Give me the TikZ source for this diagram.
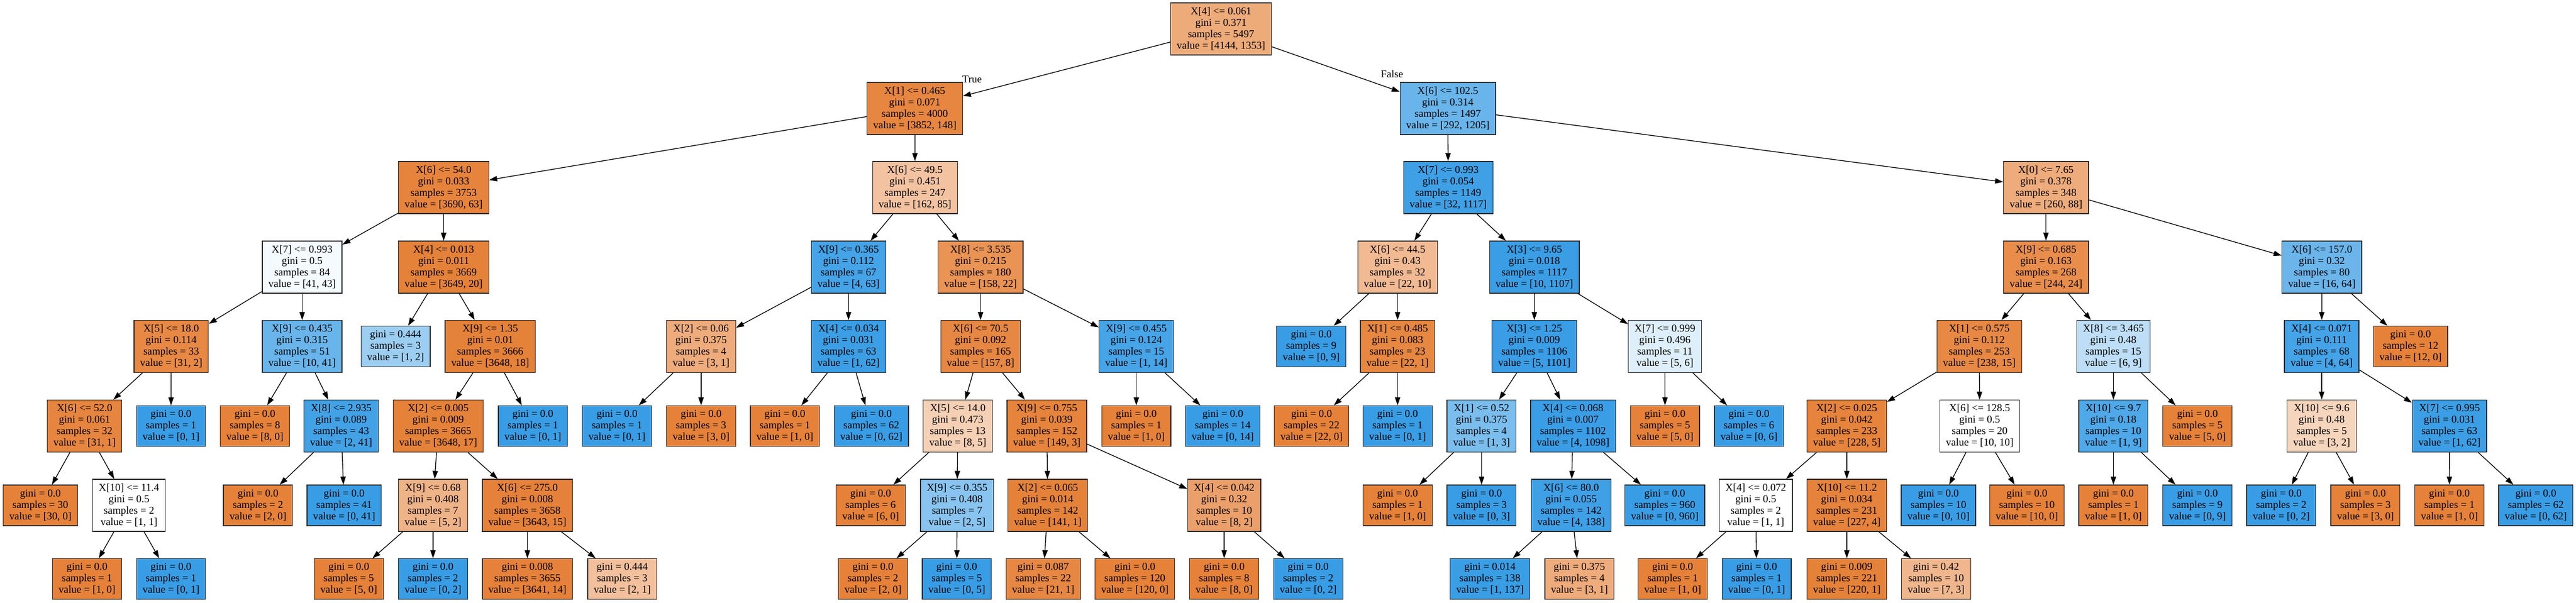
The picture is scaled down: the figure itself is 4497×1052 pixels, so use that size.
\documentclass[tikz,border=0pt]{standalone}
\usepackage{fontspec}
\setmainfont{Liberation Serif}
\usetikzlibrary{arrows.meta}
\definecolor{cO}{RGB}{229,129,57}
\definecolor{cB}{RGB}{57,157,229}
\definecolor{bord}{RGB}{45,45,45}
\tikzset{
  tnode/.style={draw=bord, line width=1.3pt, rectangle, inner xsep=10.7pt, inner ysep=0pt,
    align=center, minimum height=91pt, font=\fontsize{18.4}{20}\selectfont},
  tleaf/.style={tnode, minimum height=71pt},
  orng/.style={fill=cO!#1!white},
  blu/.style={fill=cB!#1!white},
  wht/.style={fill=white},
  edge/.style={line width=1.3pt, -{Triangle[length=14pt,width=9.3pt]}},
  lbl/.style={font=\fontsize{18.4}{20}\selectfont, inner sep=0pt, anchor=base}
}
\begin{document}
\begin{tikzpicture}[x=1pt,y=-1pt]
\useasboundingbox (0,0) rectangle (4497,1052);
% ---- level 0/1
\node[tnode,orng=67] (n0) at (2131.6,50.5) {X[4] <= 0.061\\gini = 0.371\\samples = 5497\\value = [4144, 1353]};
\node[tnode,orng=96] (n1) at (1597,189.5) {X[1] <= 0.465\\gini = 0.071\\samples = 4000\\value = [3852, 148]};
\node[tnode,blu=76] (m0) at (2527.5,189.5) {X[6] <= 102.5\\gini = 0.314\\samples = 1497\\value = [292, 1205]};
% ---- left subtree
\node[tnode,orng=98] (n2) at (774.5,327.5) {X[6] <= 54.0\\gini = 0.033\\samples = 3753\\value = [3690, 63]};
\node[tnode,blu=5] (n3) at (527.5,466.5) {X[7] <= 0.993\\gini = 0.5\\samples = 84\\value = [41, 43]};
\node[tnode,orng=94] (n4) at (298.9,605) {X[5] <= 18.0\\gini = 0.114\\samples = 33\\value = [31, 2]};
\node[tnode,orng=97] (n5) at (147.7,744) {X[6] <= 52.0\\gini = 0.061\\samples = 32\\value = [31, 1]};
\node[tleaf,orng=100] (n6) at (70.5,882.5) {gini = 0.0\\samples = 30\\value = [30, 0]};
\node[tnode,wht] (n7) at (225.2,882.5) {X[10] <= 11.4\\gini = 0.5\\samples = 2\\value = [1, 1]};
\node[tleaf,orng=100] (n8) at (151.9,1011) {gini = 0.0\\samples = 1\\value = [1, 0]};
\node[tleaf,blu=100] (n9) at (298.5,1011) {gini = 0.0\\samples = 1\\value = [0, 1]};
\node[tleaf,blu=100] (n10) at (298.5,744) {gini = 0.0\\samples = 1\\value = [0, 1]};
\node[tnode,blu=76] (n11) at (527.5,605) {X[9] <= 0.435\\gini = 0.315\\samples = 51\\value = [10, 41]};
\node[tleaf,orng=100] (n12) at (445.1,744) {gini = 0.0\\samples = 8\\value = [8, 0]};
\node[tnode,blu=95] (n13) at (595.6,744) {X[8] <= 2.935\\gini = 0.089\\samples = 43\\value = [2, 41]};
\node[tleaf,orng=100] (n14) at (450.4,882.5) {gini = 0.0\\samples = 2\\value = [2, 0]};
\node[tleaf,blu=100] (n15) at (600.8,882.5) {gini = 0.0\\samples = 41\\value = [0, 41]};
\node[tnode,orng=99.5] (n16) at (774.5,466.5) {X[4] <= 0.013\\gini = 0.011\\samples = 3669\\value = [3649, 20]};
\node[tleaf,blu=50] (n17) at (690.6,605) {gini = 0.444\\samples = 3\\value = [1, 2]};
\node[tnode,orng=99.5] (n18) at (855.8,605) {X[9] <= 1.35\\gini = 0.01\\samples = 3666\\value = [3648, 18]};
\node[tnode,orng=99.5] (n19) at (765,744) {X[2] <= 0.005\\gini = 0.009\\samples = 3665\\value = [3648, 17]};
\node[tnode,orng=60] (n20) at (755.9,882.5) {X[9] <= 0.68\\gini = 0.408\\samples = 7\\value = [5, 2]};
\node[tleaf,orng=100] (n21) at (608.9,1011) {gini = 0.0\\samples = 5\\value = [5, 0]};
\node[tleaf,blu=100] (n22) at (755.9,1011) {gini = 0.0\\samples = 2\\value = [0, 2]};
\node[tnode,orng=99.6] (n23) at (920.7,882.5) {X[6] <= 275.0\\gini = 0.008\\samples = 3658\\value = [3643, 15]};
\node[tleaf,orng=99.6] (n24) at (920.7,1011) {gini = 0.008\\samples = 3655\\value = [3641, 14]};
\node[tleaf,orng=50] (n25) at (1086.3,1011) {gini = 0.444\\samples = 3\\value = [2, 1]};
\node[tleaf,blu=100] (n26) at (930.2,744) {gini = 0.0\\samples = 1\\value = [0, 1]};
\node[tnode,orng=47.5] (n27) at (1597.4,327.5) {X[6] <= 49.5\\gini = 0.451\\samples = 247\\value = [162, 85]};
\node[tnode,blu=93.7] (n28) at (1481.3,466.5) {X[9] <= 0.365\\gini = 0.112\\samples = 67\\value = [4, 63]};
\node[tnode,orng=66.7] (n29) at (1223.9,605) {X[2] <= 0.06\\gini = 0.375\\samples = 4\\value = [3, 1]};
\node[tleaf,blu=100] (n30) at (1077.1,744) {gini = 0.0\\samples = 1\\value = [0, 1]};
\node[tleaf,orng=100] (n31) at (1223.9,744) {gini = 0.0\\samples = 3\\value = [3, 0]};
\node[tnode,blu=98.4] (n32) at (1481.3,605) {X[4] <= 0.034\\gini = 0.031\\samples = 63\\value = [1, 62]};
\node[tleaf,orng=100] (n33) at (1370.2,744) {gini = 0.0\\samples = 1\\value = [1, 0]};
\node[tleaf,blu=100] (n34) at (1521.1,744) {gini = 0.0\\samples = 62\\value = [0, 62]};
\node[tnode,orng=86] (n35) at (1711.8,466.5) {X[8] <= 3.535\\gini = 0.215\\samples = 180\\value = [158, 22]};
\node[tnode,orng=95] (n36) at (1711.8,605) {X[6] <= 70.5\\gini = 0.092\\samples = 165\\value = [157, 8]};
\node[tnode,orng=37.5] (n37) at (1672,744) {X[5] <= 14.0\\gini = 0.473\\samples = 13\\value = [8, 5]};
\node[tleaf,orng=100] (n38) at (1519.9,882.5) {gini = 0.0\\samples = 6\\value = [6, 0]};
\node[tnode,blu=60] (n39) at (1670.8,882.5) {X[9] <= 0.355\\gini = 0.408\\samples = 7\\value = [2, 5]};
\node[tleaf,orng=100] (n40) at (1524,1011) {gini = 0.0\\samples = 2\\value = [2, 0]};
\node[tleaf,blu=100] (n41) at (1670.3,1011) {gini = 0.0\\samples = 5\\value = [0, 5]};
\node[tnode,orng=98] (n42) at (1827.5,744) {X[9] <= 0.755\\gini = 0.039\\samples = 152\\value = [149, 3]};
\node[tnode,orng=99.3] (n43) at (1829.1,882.5) {X[2] <= 0.065\\gini = 0.014\\samples = 142\\value = [141, 1]};
\node[tleaf,orng=95.2] (n44) at (1821.2,1011) {gini = 0.087\\samples = 22\\value = [21, 1]};
\node[tleaf,orng=100] (n45) at (1981.2,1011) {gini = 0.0\\samples = 120\\value = [120, 0]};
\node[tnode,orng=75] (n46) at (2137.1,882.5) {X[4] <= 0.042\\gini = 0.32\\samples = 10\\value = [8, 2]};
\node[tleaf,orng=100] (n47) at (2137.1,1011) {gini = 0.0\\samples = 8\\value = [8, 0]};
\node[tleaf,blu=100] (n48) at (2283.8,1011) {gini = 0.0\\samples = 2\\value = [0, 2]};
\node[tnode,blu=92.9] (n49) at (1983.7,605) {X[9] <= 0.455\\gini = 0.124\\samples = 15\\value = [1, 14]};
\node[tleaf,orng=100] (n50) at (1983.7,744) {gini = 0.0\\samples = 1\\value = [1, 0]};
\node[tleaf,blu=100] (n51) at (2134.6,744) {gini = 0.0\\samples = 14\\value = [0, 14]};
% ---- right subtree
\node[tnode,blu=97.1] (m1) at (2528.2,327.5) {X[7] <= 0.993\\gini = 0.054\\samples = 1149\\value = [32, 1117]};
\node[tnode,orng=54.5] (m2) at (2439.8,466.5) {X[6] <= 44.5\\gini = 0.43\\samples = 32\\value = [22, 10]};
\node[tleaf,blu=100] (m3) at (2289.1,605) {gini = 0.0\\samples = 9\\value = [0, 9]};
\node[tnode,orng=95.5] (m4) at (2439.8,605) {X[1] <= 0.485\\gini = 0.083\\samples = 23\\value = [22, 1]};
\node[tleaf,orng=100] (m5) at (2289.6,744) {gini = 0.0\\samples = 22\\value = [22, 0]};
\node[tleaf,blu=100] (m6) at (2439.8,744) {gini = 0.0\\samples = 1\\value = [0, 1]};
\node[tnode,blu=99.1] (m7) at (2678.6,466.5) {X[3] <= 9.65\\gini = 0.018\\samples = 1117\\value = [10, 1107]};
\node[tnode,blu=99.5] (m8) at (2678.5,605) {X[3] <= 1.25\\gini = 0.009\\samples = 1106\\value = [5, 1101]};
\node[tnode,blu=66.7] (m9) at (2586.4,744) {X[1] <= 0.52\\gini = 0.375\\samples = 4\\value = [1, 3]};
\node[tleaf,orng=100] (m10) at (2439.8,882.5) {gini = 0.0\\samples = 1\\value = [1, 0]};
\node[tleaf,blu=100] (m11) at (2586.4,882.5) {gini = 0.0\\samples = 3\\value = [0, 3]};
\node[tnode,blu=99.6] (m12) at (2746,744) {X[4] <= 0.068\\gini = 0.007\\samples = 1102\\value = [4, 1098]};
\node[tnode,blu=97.1] (m13) at (2742.8,882.5) {X[6] <= 80.0\\gini = 0.055\\samples = 142\\value = [4, 138]};
\node[tleaf,blu=99.3] (m14) at (2601.1,1011) {gini = 0.014\\samples = 138\\value = [1, 137]};
\node[tleaf,orng=66.7] (m15) at (2757.2,1011) {gini = 0.375\\samples = 4\\value = [3, 1]};
\node[tleaf,blu=100] (m16) at (2906.3,882.5) {gini = 0.0\\samples = 960\\value = [0, 960]};
\node[tnode,blu=16.7] (m17) at (2906.5,605) {X[7] <= 0.999\\gini = 0.496\\samples = 11\\value = [5, 6]};
\node[tleaf,orng=100] (m18) at (2906.6,744) {gini = 0.0\\samples = 5\\value = [5, 0]};
\node[tleaf,blu=100] (m19) at (3053.2,744) {gini = 0.0\\samples = 6\\value = [0, 6]};
\node[tnode,orng=66.2] (m20) at (3571.7,327.5) {X[0] <= 7.65\\gini = 0.378\\samples = 348\\value = [260, 88]};
\node[tnode,orng=90.2] (m21) at (3571.7,466.5) {X[9] <= 0.685\\gini = 0.163\\samples = 268\\value = [244, 24]};
\node[tnode,orng=93.7] (m22) at (3455.3,605) {X[1] <= 0.575\\gini = 0.112\\samples = 253\\value = [238, 15]};
\node[tnode,orng=97.8] (m23) at (3224,744) {X[2] <= 0.025\\gini = 0.042\\samples = 233\\value = [228, 5]};
\node[tnode,wht] (m24) at (3065.1,882.5) {X[4] <= 0.072\\gini = 0.5\\samples = 2\\value = [1, 1]};
\node[tleaf,orng=100] (m25) at (2920,1011) {gini = 0.0\\samples = 1\\value = [1, 0]};
\node[tleaf,blu=100] (m26) at (3066.6,1011) {gini = 0.0\\samples = 1\\value = [0, 1]};
\node[tnode,orng=98.2] (m27) at (3224,882.5) {X[10] <= 11.2\\gini = 0.034\\samples = 231\\value = [227, 4]};
\node[tleaf,orng=99.5] (m28) at (3224,1011) {gini = 0.009\\samples = 221\\value = [220, 1]};
\node[tleaf,orng=57.1] (m29) at (3379.9,1011) {gini = 0.42\\samples = 10\\value = [7, 3]};
\node[tnode,wht] (m30) at (3456,744) {X[6] <= 128.5\\gini = 0.5\\samples = 20\\value = [10, 10]};
\node[tleaf,blu=100] (m31) at (3384,882.5) {gini = 0.0\\samples = 10\\value = [0, 10]};
\node[tleaf,orng=100] (m32) at (3538.4,882.5) {gini = 0.0\\samples = 10\\value = [10, 0]};
\node[tnode,blu=33.3] (m33) at (3689.4,605) {X[8] <= 3.465\\gini = 0.48\\samples = 15\\value = [6, 9]};
\node[tnode,blu=88.9] (m34) at (3689.4,744) {X[10] <= 9.7\\gini = 0.18\\samples = 10\\value = [1, 9]};
\node[tleaf,orng=100] (m35) at (3689.4,882.5) {gini = 0.0\\samples = 1\\value = [1, 0]};
\node[tleaf,blu=100] (m36) at (3836.1,882.5) {gini = 0.0\\samples = 9\\value = [0, 9]};
\node[tleaf,orng=100] (m37) at (3836.1,744) {gini = 0.0\\samples = 5\\value = [5, 0]};
\node[tnode,blu=75] (m38) at (4053.3,466.5) {X[6] <= 157.0\\gini = 0.32\\samples = 80\\value = [16, 64]};
\node[tnode,blu=93.75] (m39) at (4053,605) {X[4] <= 0.071\\gini = 0.111\\samples = 68\\value = [4, 64]};
\node[tnode,orng=33.3] (m40) at (4053,744) {X[10] <= 9.6\\gini = 0.48\\samples = 5\\value = [3, 2]};
\node[tleaf,blu=100] (m41) at (3982.4,882.5) {gini = 0.0\\samples = 2\\value = [0, 2]};
\node[tleaf,orng=100] (m42) at (4129.4,882.5) {gini = 0.0\\samples = 3\\value = [3, 0]};
\node[tnode,blu=98.4] (m43) at (4276.1,744) {X[7] <= 0.995\\gini = 0.031\\samples = 63\\value = [1, 62]};
\node[tleaf,orng=100] (m44) at (4276,882.5) {gini = 0.0\\samples = 1\\value = [1, 0]};
\node[tleaf,blu=100] (m45) at (4426.8,882.5) {gini = 0.0\\samples = 62\\value = [0, 62]};
\node[tleaf,orng=100] (m46) at (4208.1,605) {gini = 0.0\\samples = 12\\value = [12, 0]};
% ---- labels
\node[lbl] (tlab) at (1697,144) {True};
\node[lbl] (flab) at (2430,135) {False};
% ---- edges
\foreach \p/\c in {n0/n1,n0/m0,
  n1/n2,n1/n27,n2/n3,n2/n16,n3/n4,n3/n11,n4/n5,n4/n10,n5/n6,n5/n7,n7/n8,n7/n9,
  n11/n12,n11/n13,n13/n14,n13/n15,n16/n17,n16/n18,n18/n19,n18/n26,n19/n20,n19/n23,
  n20/n21,n20/n22,n23/n24,n23/n25,
  n27/n28,n27/n35,n28/n29,n28/n32,n29/n30,n29/n31,n32/n33,n32/n34,
  n35/n36,n35/n49,n36/n37,n36/n42,n37/n38,n37/n39,n39/n40,n39/n41,
  n42/n43,n42/n46,n43/n44,n43/n45,n46/n47,n46/n48,n49/n50,n49/n51,
  m0/m1,m0/m20,m1/m2,m1/m7,m2/m3,m2/m4,m4/m5,m4/m6,m7/m8,m7/m17,m8/m9,m8/m12,
  m9/m10,m9/m11,m12/m13,m12/m16,m13/m14,m13/m15,m17/m18,m17/m19,
  m20/m21,m20/m38,m21/m22,m21/m33,m22/m23,m22/m30,m23/m24,m23/m27,m24/m25,m24/m26,
  m27/m28,m27/m29,m30/m31,m30/m32,m33/m34,m33/m37,m34/m35,m34/m36,
  m38/m39,m38/m46,m39/m40,m39/m43,m40/m41,m40/m42,m43/m44,m43/m45}
  \draw[edge] (\p) -- (\c);
\end{tikzpicture}
\end{document}
